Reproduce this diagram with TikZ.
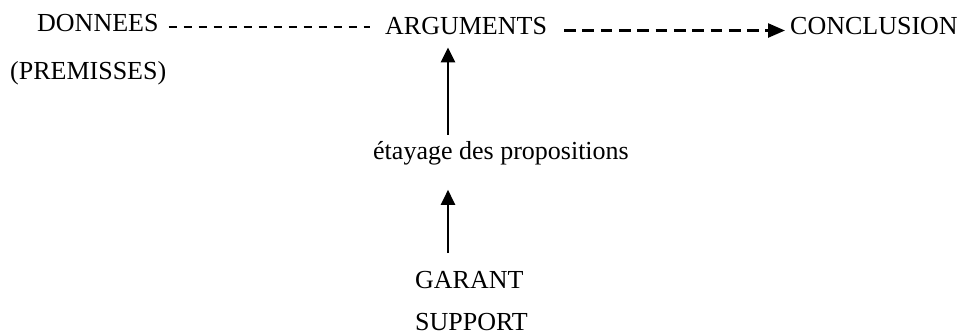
\documentclass[tikz,border=0pt]{standalone}
\usepackage{fontspec}
\setmainfont{Liberation Serif}
\usetikzlibrary{arrows.meta}
\begin{document}
\begin{tikzpicture}[x=1pt,y=1pt,
  lbl/.style={inner sep=0pt, anchor=base west, font=\fontsize{26}{31}\selectfont},
  dashone/.style={line width=1.5pt, dash pattern=on 8.3pt off 6.7pt},
  dashtwo/.style={line width=2.5pt, dash pattern=on 11.7pt off 6.6pt, -{Triangle[length=17pt,width=14pt]}},
  uparr/.style={line width=2.5pt, -{Triangle[length=15pt,width=14pt]}}]
\useasboundingbox (0,0) rectangle (966,335);
\node[lbl] (donnees) at (37,303) {DONNEES};
\node[lbl] (prem) at (10,255) {(PREMISSES)};
\node[lbl] (arg) at (385,300) {ARGUMENTS};
\node[lbl] (concl) at (790,300) {CONCLUSION};
\node[lbl] (etay) at (373,175) {étayage des propositions};
\node[lbl] (garant) at (415,47) {GARANT};
\node[lbl] (support) at (415,5) {SUPPORT};
\coordinate (ax) at (448,0);
\draw[dashone] ([xshift=10pt,yshift=-3.6pt]donnees.east) -- ([xshift=-15pt,yshift=-0.6pt]arg.west);
\draw[dashtwo] ([xshift=17pt,yshift=-4pt]arg.east) -- ([xshift=-5pt,yshift=-4pt]concl.west);
\draw[uparr, shorten <=7pt, shorten >=12pt] (etay.north -| ax) -- (arg.south -| ax);
\draw[uparr, shorten <=17.5pt, shorten >=24pt] (garant.north -| ax) -- (etay.south -| ax);
\end{tikzpicture}
\end{document}
